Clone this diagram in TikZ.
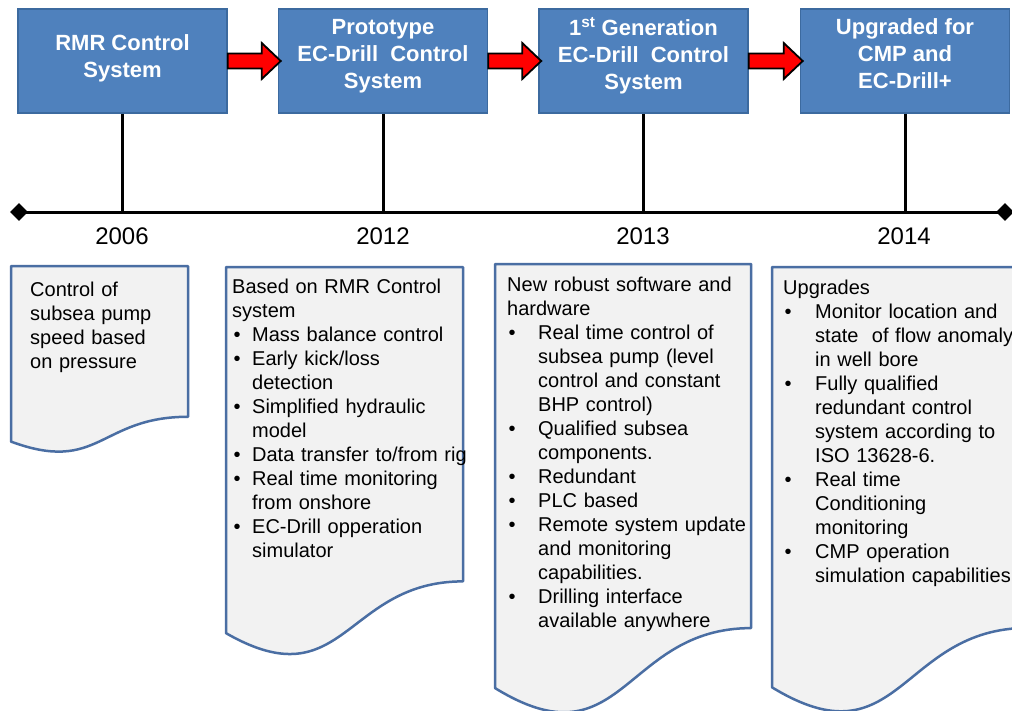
\documentclass[tikz,border=0pt]{standalone}
\usepackage{fontspec}
\setmainfont{Liberation Sans}
\usetikzlibrary{shapes.geometric,calc}
\definecolor{boxblue}{HTML}{4F81BD}
\definecolor{boxedge}{HTML}{3C6A9F}
\definecolor{docedge}{HTML}{4A6EA3}
\definecolor{docfill}{HTML}{F2F2F2}
\definecolor{arrred}{HTML}{FF0000}
\newcommand\bitem[2]{\par\hangindent=#1\hangafter=1\noindent\hbox to #1{\hspace{1.5pt}\textbullet\hfil}#2\par}
\newcommand\docshape[4]{% x y w h (pixel coords, y downward)
  \pgfmathsetmacro\dR{#1+#3}%
  \pgfmathsetmacro\dM{#1+#3/2}%
  \pgfmathsetmacro\dA{-(#2+0.802*#4)}%
  \pgfmathsetmacro\dB{-(#2+1.1075*#4)}%
  \pgfmathsetmacro\dC{-(#2+0.934*#4)}%
  \draw[docstyle] (#1,-#2) -- (\dR,-#2) -- (\dR,\dA) .. controls (\dM,\dA) and (\dM,\dB) .. (#1,\dC) -- cycle;}
\begin{document}
\begin{tikzpicture}[x=1pt,y=1pt,
  box/.style={draw=boxedge, line width=1.5pt, fill=boxblue, minimum width=209pt, minimum height=104pt, inner sep=0pt},
  boxtext/.style={text=white, font=\bfseries\fontsize{22}{27}\selectfont, align=center, inner sep=0pt},
  redarrow/.style={fill=arrred, draw=black, line width=1.8pt, line join=miter},
  stem/.style={line width=3pt, black},
  diam/.style={diamond, fill=black, inner sep=0pt, minimum width=18pt, minimum height=18pt},
  year/.style={font=\fontsize{24}{28}\selectfont, inner sep=0pt},
  docstyle/.style={draw=docedge, fill=docfill, line width=2.5pt, line join=round},
  doctext/.style={anchor=north west, inner sep=0pt, text width=300pt, align=left, font=\fontsize{20}{24}\selectfont}
]
\useasboundingbox (0,0) rectangle (1012,-710);
\fill[white] (0,0) rectangle (1012,-710);

% timeline
\node[diam] (dL) at (19,-212) {};
\node[diam] (dR) at (1005,-212) {};
\draw[stem] (dL.center) -- (dR.center);

% boxes
\node[box] (b1) at (122.5,-61) {};
\node[box] (b2) at (383,-61) {};
\node[box] (b3) at (643.5,-61) {};
\node[box] (b4) at (905,-61) {};
\node[boxtext] (t1) at (122.5,-58) {RMR Control\\System};
\node[boxtext] (t2) at (383,-56) {Prototype\\EC-Drill\ \ Control\\System};
\node[boxtext] (t3) at (643.5,-56) {1\textsuperscript{st} Generation\\EC-Drill\ \ Control\\System};
\node[boxtext] (t4) at (905,-54) {Upgraded for\\CMP and\\EC-Drill+};

% stems
\foreach \b in {b1,b2,b3,b4} {\draw[stem] (\b.south) -- (\b.south |- dL.center);}

% years
\node[year] (y1) at (122,-236) {2006};
\node[year] (y2) at (383,-236) {2012};
\node[year] (y3) at (643,-236) {2013};
\node[year] (y4) at (904,-236) {2014};

% red arrows
\foreach \a/\b in {b1/b2,b2/b3,b3/b4} {
  \draw[redarrow] ($(\a.east)+(0,7.5)$) -- ($(\b.west)+(-16,7.5)$) -- ++(0,10.5) -- ($(\b.west)+(3,0)$) -- ++(-19,-18) -- ++(0,10.5) -- ($(\a.east)+(0,-7.5)$) -- cycle;
}

% documents
\docshape{11}{266}{177}{188}
\docshape{226}{267}{237}{392}
\docshape{495}{264}{256}{454}
\docshape{772}{267}{256}{450}

\node[doctext] (d1) at (30,-282) {Control of\\subsea pump\\speed based\\on pressure};
\node[doctext] (d2) at (232,-279) {\noindent Based on RMR Control\newline system
\bitem{20pt}{Mass balance control}
\bitem{20pt}{Early kick/loss\newline detection}
\bitem{20pt}{Simplified hydraulic\newline model}
\bitem{20pt}{Data transfer to/from rig}
\bitem{20pt}{Real time monitoring\newline from onshore}
\bitem{20pt}{EC-Drill opperation\newline simulator}};
\node[doctext] (d3) at (507,-277) {\noindent New robust software and\newline hardware
\bitem{31pt}{Real time control of\newline subsea pump (level\newline control and constant\newline BHP control)}
\bitem{31pt}{Qualified subsea\newline components.}
\bitem{31pt}{Redundant}
\bitem{31pt}{PLC based}
\bitem{31pt}{Remote system update\newline and monitoring\newline capabilities.}
\bitem{31pt}{Drilling interface\newline available anywhere}};
\node[doctext] (d4) at (783,-280) {\noindent Upgrades
\bitem{32pt}{Monitor location and\newline state\ \ of flow anomaly\newline in well bore}
\bitem{32pt}{Fully qualified\newline redundant control\newline system according to\newline ISO 13628-6.}
\bitem{32pt}{Real time\newline Conditioning\newline monitoring}
\bitem{32pt}{CMP operation\newline simulation capabilities}};
\end{tikzpicture}
\end{document}
